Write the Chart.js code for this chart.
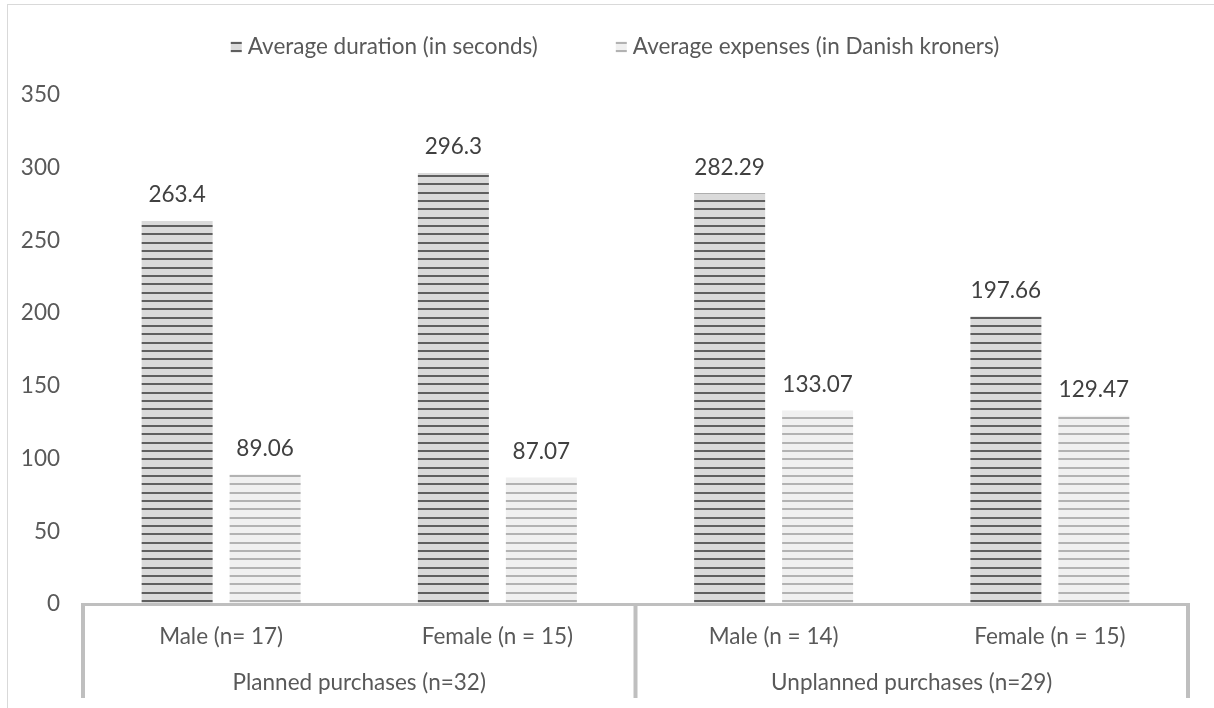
<!DOCTYPE html>
<html>
<head>
<meta charset="utf-8">
<style>
  html, body { margin: 0; padding: 0; background: #ffffff; }
  #wrap { width: 1214px; height: 708px; }
</style>
<script src="https://cdn.jsdelivr.net/npm/chart.js@4.4.0/dist/chart.umd.min.js"></script>
</head>
<body>
<div id="wrap"><canvas id="chart" width="1214" height="708"></canvas></div>
<script>
// Data
const groups = ['Planned purchases (n=32)', 'Unplanned purchases (n=29)'];
const groupSizes = [2, 2];
const categories = ['Male (n= 17)', 'Female (n = 15)', 'Male (n = 14)', 'Female (n = 15)'];
const seriesNames = ['Average duration (in seconds)', 'Average expenses (in Danish kroners)'];
const durationValues = [263.4, 296.3, 282.29, 197.66];
const expenseValues = [89.06, 87.07, 133.07, 129.47];
const yMin = 0, yMax = 350, yStep = 50;

const FONT = 'Lato, "Open Sans", sans-serif';
const FONT_SIZE = 22.5;
const TEXT = '#595959';
const LABEL = '#404040';
const AXIS = '#bfbfbf';

// Horizontal stripe fill: light ground with thin darker rules (~8.3px apart)
function stripes(ground, rule) {
  const c = document.createElement('canvas');
  c.width = 8; c.height = 25;
  const g = c.getContext('2d');
  g.fillStyle = ground; g.fillRect(0, 0, 8, 25);
  g.fillStyle = rule;
  [0, 8, 17].forEach(y => g.fillRect(0, y, 8, 2));
  return g.createPattern(c, 'repeat');
}
const darkFill = stripes('#dadada', '#5f5f5f');
const lightFill = stripes('#f0f0f0', '#b2b2b2');

const chartPlugin = {
  id: 'decor',
  beforeDraw(chart) {
    const ctx = chart.ctx;
    ctx.save();
    ctx.strokeStyle = '#d9d9d9';
    ctx.lineWidth = 1;
    ctx.strokeRect(7.5, 4.5, chart.width * 2, chart.height * 2);
    ctx.restore();
  },
  afterDatasetsDraw(chart) {
    const ctx = chart.ctx;
    const xs = chart.scales.x, ys = chart.scales.y;
    const base = ys.getPixelForValue(0);
    const bottom = chart.height - 10;
    ctx.save();
    // value labels above each bar
    ctx.font = FONT_SIZE + 'px ' + FONT;
    ctx.fillStyle = LABEL;
    ctx.textAlign = 'center';
    ctx.textBaseline = 'middle';
    chart.data.datasets.forEach((ds, di) => {
      chart.getDatasetMeta(di).data.forEach((bar, i) => {
        ctx.fillText(String(ds.data[i]), bar.x, bar.y - 26);
      });
    });
    // category axis line and group separators
    ctx.strokeStyle = AXIS;
    ctx.lineWidth = 3;
    ctx.beginPath();
    ctx.moveTo(xs.left - 2, base + 0.5);
    ctx.lineTo(xs.right + 2, base + 0.5);
    ctx.stroke();
    const edges = [xs.left];
    let idx = 0;
    groupSizes.forEach(n => {
      idx += n;
      if (idx < categories.length) {
        edges.push((xs.getPixelForValue(idx - 1) + xs.getPixelForValue(idx)) / 2);
      }
    });
    edges.push(xs.right);
    ctx.lineWidth = 4;
    ctx.beginPath();
    edges.forEach(x => { ctx.moveTo(x, base); ctx.lineTo(x, bottom); });
    ctx.stroke();
    // group labels
    ctx.fillStyle = TEXT;
    for (let g = 0; g < groups.length; g++) {
      ctx.fillText(groups[g], (edges[g] + edges[g + 1]) / 2, 683);
    }
    ctx.restore();
  },
  afterDraw(chart) {
    // legend row
    const ctx = chart.ctx;
    ctx.save();
    ctx.font = FONT_SIZE + 'px ' + FONT;
    ctx.textBaseline = 'middle';
    ctx.textAlign = 'left';
    const box = 11, gapText = 6, gapItem = 78, cy = 47;
    const widths = chart.data.datasets.map(ds => box + gapText + ctx.measureText(ds.label).width);
    const total = widths.reduce((a, b) => a + b, 0) + gapItem * (widths.length - 1);
    let x = 615 - total / 2;
    chart.data.datasets.forEach((ds, i) => {
      ctx.fillStyle = ds.backgroundColor;
      ctx.fillRect(x, cy - box / 2, box, box);
      ctx.fillStyle = TEXT;
      ctx.fillText(ds.label, x + box + gapText, cy);
      x += widths[i] + gapItem;
    });
    ctx.restore();
  }
};

new Chart(document.getElementById('chart'), {
  type: 'bar',
  data: {
    labels: categories,
    datasets: [
      { label: seriesNames[0], data: durationValues, backgroundColor: darkFill, borderWidth: 0 },
      { label: seriesNames[1], data: expenseValues, backgroundColor: lightFill, borderWidth: 0 }
    ]
  },
  options: {
    responsive: false,
    animation: false,
    devicePixelRatio: 1,
    layout: { padding: { top: 95, left: 0, right: 26, bottom: 0 } },
    datasets: { bar: { categoryPercentage: 0.637, barPercentage: 0.807 } },
    plugins: { legend: { display: false }, tooltip: { enabled: false } },
    scales: {
      x: {
        grid: { display: false, drawTicks: false },
        border: { display: false },
        ticks: { color: TEXT, font: { family: FONT, size: FONT_SIZE }, padding: 19, maxRotation: 0, autoSkip: false },
        afterFit(s) { s.height = 104; }
      },
      y: {
        min: yMin, max: yMax,
        grid: { display: false, drawTicks: false },
        border: { display: false },
        ticks: { stepSize: yStep, color: TEXT, font: { family: FONT, size: FONT_SIZE }, padding: 23 },
        afterFit(s) { s.width = 83; }
      }
    }
  },
  plugins: [chartPlugin]
});
</script>
</body>
</html>
